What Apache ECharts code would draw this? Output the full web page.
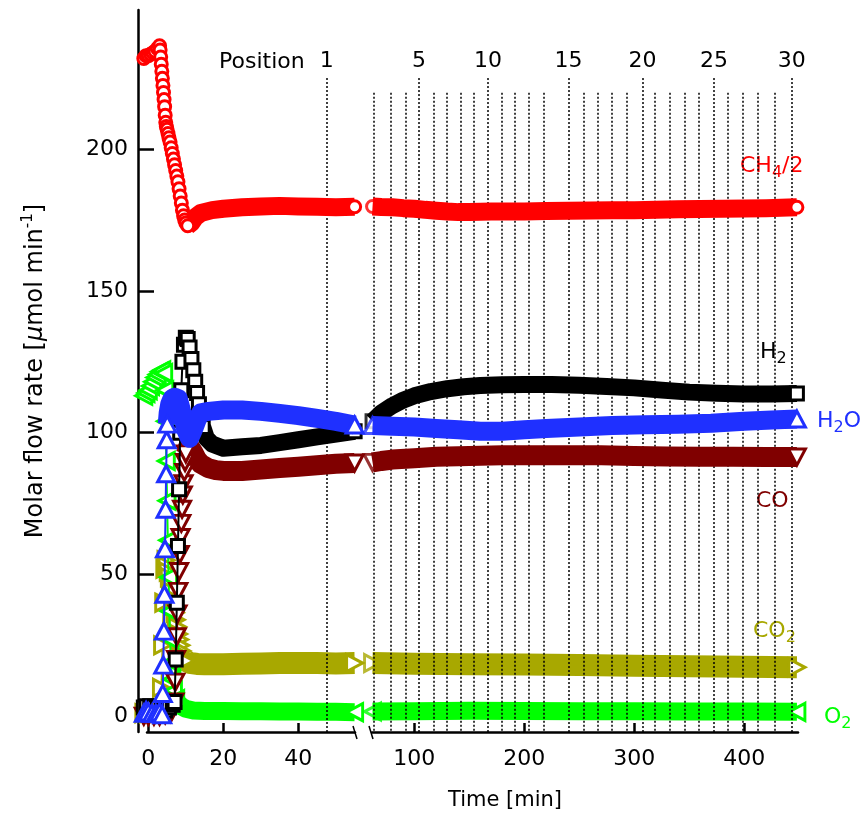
<!DOCTYPE html>
<html><head><meta charset="utf-8">
<script src="https://cdn.jsdelivr.net/npm/echarts@6/dist/echarts.min.js"></script>
<style>html,body{margin:0;padding:0;background:#fff}#c{width:861px;height:824px}</style>
</head><body><div id="c"></div><script>
// ---------- DATA (time in min, molar flow rate in µmol/min) ----------
const ch4LeftT = [-1.2,-0.6,0,0.6,1.2,1.8,2.4,3.0,3.15,3.3,3.45,3.6,3.75,3.9,4.05,4.2,4.35,4.5,4.65,4.8,5.0,5.25,5.5,5.8,6.1,6.4,6.7,7.0,7.3,7.6,7.9,8.2,8.5,8.8,9.1,9.4,9.7,10.0,10.5,11.5,12.5,14,17,20,25,30,35,40,45,50,55];
const ch4LeftV = [232,233,233,233.5,234,234.5,235.5,236.5,235,232.5,230,227.5,225,222.5,220,217.5,215,212,209.5,208,207,205.5,204,202.5,200.5,198.5,196.5,194.5,192.5,190.5,188.5,186,183.5,181,178.5,176.5,175,174,173,174,176,177.5,178.5,179,179.5,179.8,180,179.8,179.7,179.5,179.7];
const ch4RightT = [62,70,80,90,100,110,120,130,140,150,160,170,180,200,220,240,260,280,300,320,340,360,380,400,420,440,448];
const ch4RightV = [179.8,179.6,179.5,179.2,179,178.6,178.3,178,177.8,177.8,177.9,178,178,178,178.2,178.3,178.4,178.5,178.5,178.6,178.8,178.9,179,179.1,179.2,179.4,179.5];

const h2LeftT = [-1.2,-0.5,0.5,1.5,2.5,3.5,4.5,5.5,6.5,7.0,7.3,7.6,7.9,8.2,8.5,8.8,9.1,9.5,10.0,10.5,11.0,11.5,12.0,12.5,13.0,13.5,14.0,14.5,15.5,17,20,25,30,35,40,45,50,55];
const h2LeftV = [3,3.5,3.5,3,3,2,2,3,4,5,20,40,60,80,100,115,125,131,133.5,133,130,126,122,118,114,110,106,102,98,96,94.5,95,95.5,96.5,97.5,98.5,99.5,100.5];
const h2RightT = [62,70,80,90,100,115,130,145,160,180,200,225,250,275,300,325,350,375,400,425,448];
const h2RightV = [104,107,109.5,111.5,113,114.5,115.5,116.2,116.6,116.9,117,117,116.7,116.3,115.8,115,114.3,113.9,113.6,113.6,113.8];

const h2oLeftT = [-1.2,-0.6,0,1,2,3,3.7,3.85,4.0,4.15,4.3,4.45,4.6,4.75,4.9,5.05,5.3,5.7,6.3,7.0,8,9,10,11,12,13,14,16,20,25,30,35,40,45,50,55];
const h2oLeftV = [1,2,1.5,1,1,1.5,0.5,8,18,30,43,59,73,85.5,97.5,103,107,110,112,112.5,112,107,101,98,101,104.5,107,107.5,108,108,107.5,106.8,106,105,104,102.7];
const h2oRightT = [62,80,100,120,140,160,180,200,220,250,280,310,340,370,400,425,448];
const h2oRightV = [102.5,102.3,102,101.5,101,100.5,100.5,101,101.5,102,102.5,102.8,103,103.3,104,104.5,104.8];

const coLeftT = [-1.2,0,1.5,3,4.5,6,7.0,7.2,7.4,7.6,7.8,8.0,8.2,8.4,8.6,8.8,9.0,9.2,9.4,9.6,9.8,10.0,10.6,11.3,12,13,14,16,18,20,25,30,35,40,45,50,55];
const coLeftV = [0,0,0,0,0.5,1,5,12,20,28,36,44,51,57,63,68,73,78,82,86,89.5,92.5,95,94.5,93,90.5,89,87.5,86.8,86.5,86.5,87,87.5,88,88.5,89,89.3];
const coRightT = [62,70,80,100,120,150,180,210,240,270,300,330,360,390,420,448];
const coRightV = [89.5,90,90.5,91,91.5,91.8,92,92,92,92,91.8,91.6,91.5,91.5,91.4,91.4];

const co2LeftT = [-1.2,0,1.5,3,3.5,3.8,4.1,4.4,4.7,5.0,5.3,5.6,5.9,6.2,6.5,6.8,7.1,7.4,7.7,8.0,8.3,8.6,8.9,9.2,9.5,10,11,13,15,20,25,30,35,40,45,50,55];
const co2LeftV = [1,1,1.5,2,10,25,40,52,55,53,51,49,46.5,44,41.5,39,36.5,34,31.5,29,27,25,23,21.5,20.5,19.5,18.8,18.4,18.3,18.3,18.5,18.6,18.7,18.7,18.7,18.6,18.7];
const co2RightT = [62,100,150,200,250,300,350,400,448];
const co2RightV = [18.7,18.5,18.3,18.2,18,17.8,17.6,17.4,17.2];

const o2LeftT = [-1.2,-0.6,0,0.6,1.2,1.8,2.4,3.0,3.6,4.1,4.4,4.6,4.8,5.0,5.2,5.4,5.6,5.8,6.0,6.3,6.7,7.3,8,9,10,12,15,20,25,30,35,40,45,50,55];
const o2LeftV = [113,114,115,116.5,118,119.5,120.5,121.5,122,121,115,104,90,76,62,49,37,27,19,13,9,6,4.5,3.3,2.6,2,1.8,1.8,1.7,1.7,1.6,1.6,1.5,1.5,1.4];
const o2RightT = [62,100,150,200,250,300,350,400,448];
const o2RightV = [1.6,1.7,1.9,1.8,1.7,1.7,1.6,1.6,1.5];

const positionNumbers = [1,2,3,4,5,6,7,8,9,10,11,12,13,14,15,16,17,18,19,20,21,22,23,24,25,26,27,28,29,30];
const positionTimes = [47.6,63.0,78.5,91.8,104.3,117.3,129.7,142.5,154.5,167.0,179.1,191.8,204.5,217.5,240.3,253.9,267.0,280.0,293.4,307.5,319.1,332.1,345.7,359.1,372.5,385.2,398.5,412.1,427.5,443.4];
const labeledPositions = [1,5,10,15,20,25,30];

const yTicks = [0,50,100,150,200];
const xTicksLeft = [0,20,40];
const xTicksRight = [100,200,300,400];

// ---------- STYLE ----------
const FONT = 'DejaVu Sans';
const Y_MIN = -5.6, Y_MAX = 249.1;
const UP = 'path://M5,0L10,10L0,10Z', DOWN = 'path://M0,0L10,0L5,10Z',
      RIGHT = 'path://M0,0L10,5L0,10Z', LEFT = 'path://M10,0L0,5L10,10Z';

const species = [
  {lT:co2LeftT,lV:co2LeftV,rT:co2RightT,rV:co2RightV,color:'#a8a800',symbol:RIGHT,size:[16,17],band:22,bandStart:10,z:2},
  {lT:o2LeftT,lV:o2LeftV,rT:o2RightT,rV:o2RightV,color:'#00ff00',symbol:LEFT,size:[16,17],band:18,bandStart:7.3,z:4},
  {lT:coLeftT,lV:coLeftV,rT:coRightT,rV:coRightV,color:'#800000',symbol:DOWN,size:[17,16],band:20,bandStart:10,z:6},
  {lT:h2LeftT,lV:h2LeftV,rT:h2RightT,rV:h2RightV,color:'#000000',symbol:'rect',size:13,band:17,bandStart:14.5,z:8},
  {lT:h2oLeftT,lV:h2oLeftV,rT:h2oRightT,rV:h2oRightV,color:'#1f30ff',symbol:UP,size:[17,16],band:19,bandStart:5.05,z:10},
  {lT:ch4LeftT,lV:ch4LeftV,rT:ch4RightT,rV:ch4RightV,color:'#ff0000',symbol:'circle',size:12,band:18,bandStart:10.5,z:12}
];

function pts(T, V) { return T.map((t, i) => [t, V[i]]); }

const series = [];
species.forEach(sp => {
  const left = pts(sp.lT, sp.lV);
  const mk = left.filter(p => p[0] <= sp.bandStart);
  const bandL = left.filter(p => p[0] >= sp.bandStart);
  const right = pts(sp.rT, sp.rV);
  const hollow = {color:'#ffffff', borderColor:sp.color, borderWidth:3};
  const common = {type:'line', silent:true, animation:false, clip:false, showSymbol:true, showAllSymbol:true,
                  symbol:sp.symbol, itemStyle:hollow, emphasis:{disabled:true}};
  // transient markers (left)
  series.push(Object.assign({}, common, {xAxisIndex:0, yAxisIndex:0, data:mk, z:sp.z,
    symbolSize:sp.size, lineStyle:{color:sp.color, width:2}}));
  // steady band (left)
  series.push(Object.assign({}, common, {xAxisIndex:0, yAxisIndex:0, data:bandL, z:sp.z,
    symbolSize:(v, p) => p.dataIndex === bandL.length - 1 ? sp.size : 0,
    lineStyle:{color:sp.color, width:sp.band, cap:'butt', join:'round'}}));
  // first marker of right segment (under band)
  series.push({type:'scatter', silent:true, animation:false, xAxisIndex:1, yAxisIndex:1, data:[right[0]],
    symbol:sp.symbol, symbolSize:sp.size, itemStyle:hollow, z:sp.z - 1});
  // steady band (right)
  series.push(Object.assign({}, common, {xAxisIndex:1, yAxisIndex:1, data:right, z:sp.z,
    symbolSize:(v, p) => p.dataIndex === right.length - 1 ? sp.size : 0,
    lineStyle:{color:sp.color, width:sp.band, cap:'butt', join:'round'}}));
});

// position lines
function posLines(inLeft) {
  const out = [];
  positionNumbers.forEach((n, i) => {
    const t = positionTimes[i];
    if ((t < 56) !== inLeft) return;
    const lab = labeledPositions.indexOf(n) >= 0;
    out.push([
      {coord:[t, lab ? 225.1 : 219.9], label:{show:lab, formatter:String(n)}},
      {coord:[t, Y_MIN]}
    ]);
  });
  return out;
}
[0, 1].forEach(g => {
  series.push({type:'line', xAxisIndex:g, yAxisIndex:g, data:[], z:20, silent:true, animation:false,
    markLine:{silent:true, animation:false, symbol:['none','none'],
      lineStyle:{color:'#000', width:1.5, type:[2,2]},
      label:{position:'start', distance:6, color:'#000', fontFamily:FONT, fontSize:22},
      emphasis:{disabled:true},
      data:posLines(g === 0)}});
});

const axisLineStyle = {color:'#000', width:2.5};
const labelStyle = {color:'#000', fontFamily:FONT, fontSize:22};

const option = {
  animation:false,
  backgroundColor:'#fff',
  grid:[
    {left:147, top:10, width:208, height:722},
    {left:372, top:10, width:426, height:722}
  ],
  xAxis:[
    {gridIndex:0, type:'value', min:-0.35, max:55.1, splitLine:{show:false},
     axisLine:{onZero:false, lineStyle:axisLineStyle},
     axisTick:{inside:true, length:9, customValues:xTicksLeft, lineStyle:axisLineStyle},
     axisLabel:Object.assign({customValues:xTicksLeft, margin:16}, labelStyle)},
    {gridIndex:1, type:'value', min:61.5, max:449, splitLine:{show:false},
     axisLine:{onZero:false, lineStyle:axisLineStyle},
     axisTick:{inside:true, length:9, customValues:xTicksRight, lineStyle:axisLineStyle},
     axisLabel:Object.assign({customValues:xTicksRight, margin:16}, labelStyle)}
  ],
  yAxis:[
    {gridIndex:0, type:'value', min:Y_MIN, max:Y_MAX, offset:9, splitLine:{show:false},
     axisLine:{show:true, onZero:false, lineStyle:axisLineStyle},
     axisTick:{show:true, inside:true, length:16, customValues:yTicks, lineStyle:axisLineStyle},
     axisLabel:Object.assign({customValues:yTicks, margin:10}, labelStyle),
     name:'{n|Molar flow rate [}{i|µ}{n|mol min}{sup|-1}{n|]}', nameLocation:'middle', nameGap:88,
     nameTextStyle:{color:'#000', fontFamily:FONT, fontSize:24,
       rich:{n:{fontFamily:FONT, fontSize:24, color:'#000'},
             i:{fontFamily:FONT, fontSize:24, fontStyle:'italic', color:'#000'},
             sup:{fontFamily:FONT, fontSize:15, color:'#000', padding:[0,0,14,0]}}}},
    {gridIndex:1, type:'value', min:Y_MIN, max:Y_MAX, show:false, splitLine:{show:false}}
  ],
  graphic:[
    {type:'text', x:219, y:62, silent:true, style:{text:'Position', fill:'#000', font:'22px "DejaVu Sans"', align:'left', verticalAlign:'middle'}},
    {type:'text', x:505, y:801, silent:true, style:{text:'Time [min]', fill:'#000', font:'21px "DejaVu Sans"', align:'center', verticalAlign:'middle'}},
    {type:'line', silent:true, shape:{x1:353, y1:726, x2:357, y2:739}, style:{stroke:'#000', lineWidth:1.5}},
    {type:'line', silent:true, shape:{x1:369, y1:726, x2:373, y2:739}, style:{stroke:'#000', lineWidth:1.5}}
  ],
  series:series
};

function speciesLabel(x, y, parts, color) {
  const rich = {
    m:{fontFamily:FONT, fontSize:22, fill:color, color:color},
    s:{fontFamily:FONT, fontSize:16, fill:color, color:color, padding:[14,0,0,0]}
  };
  option.graphic.push({type:'text', x:x, y:y, silent:true,
    style:{text:parts, rich:rich, fill:color, font:'22px "DejaVu Sans"', align:'left', verticalAlign:'middle'}});
}
speciesLabel(740, 166, '{m|CH}{s|4}{m|/2}', '#ff0000');
speciesLabel(760, 352, '{m|H}{s|2}', '#000000');
speciesLabel(817, 421, '{m|H}{s|2}{m|O}', '#1f30ff');
speciesLabel(756, 501, '{m|CO}', '#800000');
speciesLabel(753, 631, '{m|CO}{s|2}', '#a8a800');
speciesLabel(824, 717, '{m|O}{s|2}', '#00ff00');

const chart = echarts.init(document.getElementById('c'), null, {renderer:'canvas'});
chart.setOption(option);
</script></body></html>
